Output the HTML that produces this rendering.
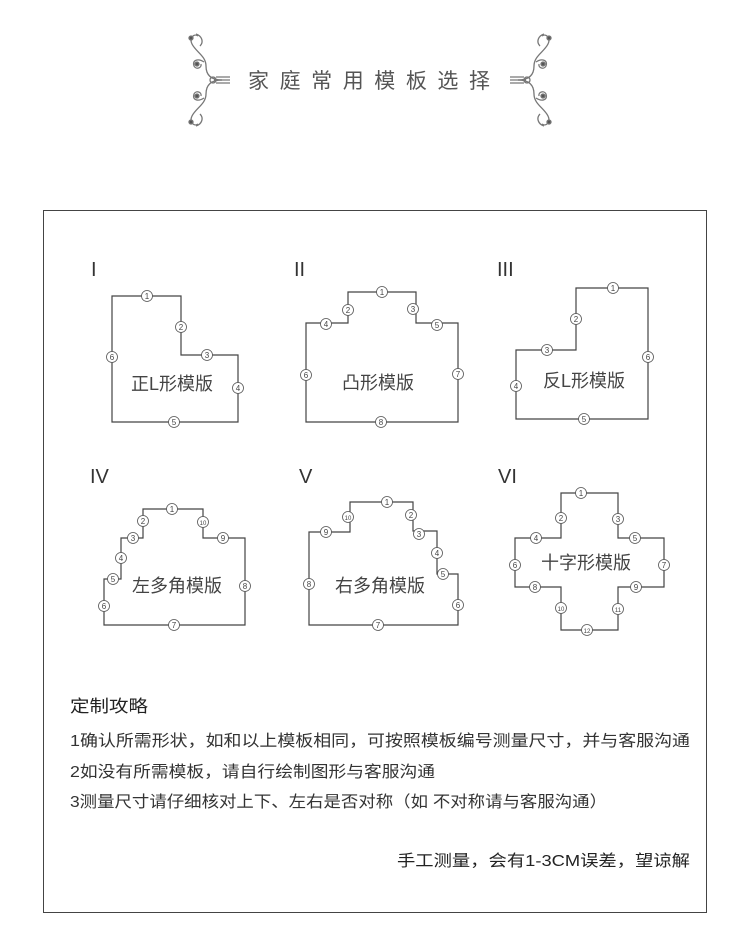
<!DOCTYPE html>
<html><head><meta charset="utf-8"><style>
html,body{margin:0;padding:0;background:#fff;}
svg{display:block}
text{font-family:"Liberation Sans","Noto Sans CJK SC",sans-serif;}
</style></head><body>
<svg width="750" height="946" viewBox="0 0 750 946" xmlns="http://www.w3.org/2000/svg">
<defs>
<g id="orn" fill="none" stroke="#777" stroke-width="1.3">
  <path d="M0,50 C12,50 16,44 16,36 C16,26 26,22 30,14 C33,8 28,3 24,6"/>
  <path d="M0,50 C12,50 16,56 16,64 C16,74 26,78 30,86 C33,92 28,97 24,94"/>
  <path d="M18,32 C24,28 30,30 28,36 C26,40 20,38 21,34"/>
  <path d="M18,68 C24,72 30,70 28,64 C26,60 20,62 21,66"/>
  <path d="M22,16 C18,12 20,6 26,4"/>
  <path d="M22,84 C18,88 20,94 26,96"/>
  <path d="M-8,47 L6,47 M-8,50 L8,50 M-8,53 L6,53"/>
  <circle cx="9" cy="50" r="3"/>
  <circle cx="25" cy="34" r="2" fill="#555"/>
  <circle cx="25" cy="66" r="2" fill="#555"/>
  <circle cx="31" cy="8" r="2" fill="#555"/>
  <circle cx="31" cy="92" r="2" fill="#555"/>
</g>
</defs>
<use href="#orn" transform="translate(222,30) scale(-1,1)"/>
<use href="#orn" transform="translate(518,30)"/>
<text x="248" y="88" font-size="21" fill="#555" textLength="242" lengthAdjust="spacing">家庭常用模板选择</text>

<rect x="43.5" y="210.5" width="663" height="702" fill="none" stroke="#444" stroke-width="1"/>

<g font-size="20" fill="#333">
<text x="91" y="276">I</text>
<text x="294" y="276">II</text>
<text x="497" y="276">III</text>
<text x="90" y="483">IV</text>
<text x="299" y="483">V</text>
<text x="498" y="483">VI</text>
</g>

<g fill="none" stroke="#444" stroke-width="1.2">
<polygon points="112,296 181,296 181,355 238,355 238,422 112,422"/>
<polygon points="306,323 348,323 348,292 416,292 416,323 458,323 458,422 306,422"/>
<polygon points="516,350 576,350 576,288 648,288 648,419 516,419"/>
<polygon points="104,625 104,579 121,579 121,538 143,538 143,509 203,509 203,538 245,538 245,625"/>
<polygon points="309,625 309,532 350,532 350,502 413,502 413,531 437,531 437,574 458,574 458,625"/>
<polygon points="515,538 561,538 561,493 618,493 618,538 664,538 664,587 618,587 618,630 561,630 561,587 515,587"/>
</g>

<g font-size="18" fill="#444" text-anchor="middle">
<text x="172" y="390">正L形模版</text>
<text x="378" y="389">凸形模版</text>
<text x="584" y="387">反L形模版</text>
<text x="177" y="592">左多角模版</text>
<text x="380" y="592">右多角模版</text>
<text x="586" y="569">十字形模版</text>
</g>

<g font-size="8" fill="#444" text-anchor="middle">
<g fill="#fff" stroke="#555" stroke-width="0.8">
<circle cx="147" cy="296" r="5.5"/><circle cx="181" cy="327" r="5.5"/><circle cx="207" cy="355" r="5.5"/><circle cx="238" cy="388" r="5.5"/><circle cx="174" cy="422" r="5.5"/><circle cx="112" cy="357" r="5.5"/>
<circle cx="382" cy="292" r="5.5"/><circle cx="348" cy="310" r="5.5"/><circle cx="413" cy="309" r="5.5"/><circle cx="326" cy="324" r="5.5"/><circle cx="437" cy="325" r="5.5"/><circle cx="306" cy="375" r="5.5"/><circle cx="458" cy="374" r="5.5"/><circle cx="381" cy="422" r="5.5"/>
<circle cx="613" cy="288" r="5.5"/><circle cx="576" cy="319" r="5.5"/><circle cx="547" cy="350" r="5.5"/><circle cx="516" cy="386" r="5.5"/><circle cx="584" cy="419" r="5.5"/><circle cx="648" cy="357" r="5.5"/>
<circle cx="172" cy="509" r="5.5"/><circle cx="143" cy="521" r="5.5"/><circle cx="203" cy="522" r="5.5"/><circle cx="133" cy="538" r="5.5"/><circle cx="223" cy="538" r="5.5"/><circle cx="121" cy="558" r="5.5"/><circle cx="113" cy="579" r="5.5"/><circle cx="104" cy="606" r="5.5"/><circle cx="245" cy="586" r="5.5"/><circle cx="174" cy="625" r="5.5"/>
<circle cx="387" cy="502" r="5.5"/><circle cx="348" cy="517" r="5.5"/><circle cx="411" cy="515" r="5.5"/><circle cx="326" cy="532" r="5.5"/><circle cx="419" cy="534" r="5.5"/><circle cx="437" cy="553" r="5.5"/><circle cx="443" cy="574" r="5.5"/><circle cx="458" cy="605" r="5.5"/><circle cx="309" cy="584" r="5.5"/><circle cx="378" cy="625" r="5.5"/>
<circle cx="581" cy="493" r="5.5"/><circle cx="561" cy="518" r="5.5"/><circle cx="618" cy="519" r="5.5"/><circle cx="536" cy="538" r="5.5"/><circle cx="635" cy="538" r="5.5"/><circle cx="515" cy="565" r="5.5"/><circle cx="664" cy="565" r="5.5"/><circle cx="535" cy="587" r="5.5"/><circle cx="636" cy="587" r="5.5"/><circle cx="561" cy="608" r="5.5"/><circle cx="618" cy="609" r="5.5"/><circle cx="587" cy="630" r="5.5"/>
</g>
<text x="147" y="299">1</text><text x="181" y="330">2</text><text x="207" y="358">3</text><text x="238" y="391">4</text><text x="174" y="425">5</text><text x="112" y="360">6</text>
<text x="382" y="295">1</text><text x="348" y="313">2</text><text x="413" y="312">3</text><text x="326" y="327">4</text><text x="437" y="328">5</text><text x="306" y="378">6</text><text x="458" y="377">7</text><text x="381" y="425">8</text>
<text x="613" y="291">1</text><text x="576" y="322">2</text><text x="547" y="353">3</text><text x="516" y="389">4</text><text x="584" y="422">5</text><text x="648" y="360">6</text>
<text x="172" y="512">1</text><text x="143" y="524">2</text><text x="203" y="525" font-size="6">10</text><text x="133" y="541">3</text><text x="223" y="541">9</text><text x="121" y="561">4</text><text x="113" y="582">5</text><text x="104" y="609">6</text><text x="245" y="589">8</text><text x="174" y="628">7</text>
<text x="387" y="505">1</text><text x="348" y="520" font-size="6">10</text><text x="411" y="518">2</text><text x="326" y="535">9</text><text x="419" y="537">3</text><text x="437" y="556">4</text><text x="443" y="577">5</text><text x="458" y="608">6</text><text x="309" y="587">8</text><text x="378" y="628">7</text>
<text x="581" y="496">1</text><text x="561" y="521">2</text><text x="618" y="522">3</text><text x="536" y="541">4</text><text x="635" y="541">5</text><text x="515" y="568">6</text><text x="664" y="568">7</text><text x="535" y="590">8</text><text x="636" y="590">9</text><text x="561" y="611" font-size="6">10</text><text x="618" y="612" font-size="6">11</text><text x="587" y="633" font-size="6">12</text>
</g>

<g fill="#333">
<text x="70" y="712" font-size="17" textLength="78" lengthAdjust="spacingAndGlyphs" fill="#222">定制攻略</text>
<text x="70" y="746" font-size="16" textLength="620" lengthAdjust="spacingAndGlyphs">1确认所需形状，如和以上模板相同，可按照模板编号测量尺寸，并与客服沟通</text>
<text x="70" y="777" font-size="16" textLength="365" lengthAdjust="spacingAndGlyphs">2如没有所需模板，请自行绘制图形与客服沟通</text>
<text x="70" y="807" font-size="16" textLength="537" lengthAdjust="spacingAndGlyphs">3测量尺寸请仔细核对上下、左右是否对称（如 不对称请与客服沟通）</text>
<text x="397" y="866" font-size="16" textLength="293" lengthAdjust="spacingAndGlyphs" fill="#222">手工测量，会有1-3CM误差，望谅解</text>
</g>
</svg>
</body></html>
